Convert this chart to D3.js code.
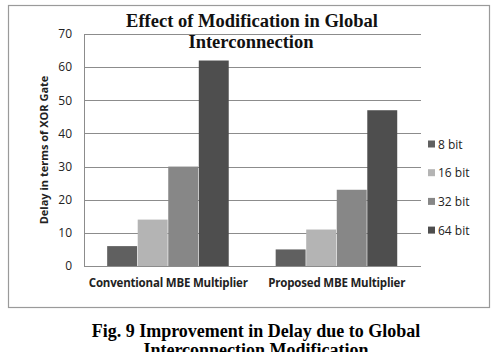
<!DOCTYPE html>
<html>
<head>
<meta charset="utf-8">
<script src="https://cdn.jsdelivr.net/npm/d3@7"></script>
<style>
  body { margin: 0; background: #fff; }
  svg { display: block; }
</style>
</head>
<body>
<svg id="chart" width="493" height="352"></svg>
<script>
// chart data
const categories = ['Conventional MBE Multiplier', 'Proposed MBE Multiplier'];
const seriesNames = ['8 bit', '16 bit', '32 bit', '64 bit'];
const seriesColors = ['#606060', '#b4b4b4', '#878787', '#4e4e4e'];
const values8 = [6, 5];
const values16 = [14, 11];
const values32 = [30, 23];
const values64 = [62, 47];
const yTicks = [0, 10, 20, 30, 40, 50, 60, 70];

const seriesValues = [values8, values16, values32, values64];

const svg = d3.select('#chart');

// outer frame
svg.append('rect')
    .attr('x', 8.5).attr('y', 5.5)
    .attr('width', 481).attr('height', 302)
    .attr('fill', '#fff')
    .attr('stroke', '#9a9a9a')
    .attr('stroke-width', 1.2);

const plot = { left: 84, right: 421, top: 34, bottom: 266 };

const y = d3.scaleLinear()
    .domain([0, 70])
    .range([plot.bottom, plot.top]);

const x0 = d3.scaleBand()
    .domain(categories)
    .range([plot.left, plot.right])
    .paddingInner(0.275)
    .paddingOuter(0.1375);

const x1 = d3.scaleBand()
    .domain(seriesNames)
    .range([0, x0.bandwidth()]);

// gridlines
svg.append('g')
    .selectAll('line')
    .data(yTicks)
    .join('line')
    .attr('x1', plot.left)
    .attr('x2', plot.right)
    .attr('y1', (d) => Math.round(y(d)) + 0.5)
    .attr('y2', (d) => Math.round(y(d)) + 0.5)
    .attr('stroke', '#8c8c8c')
    .attr('stroke-width', 1);

// left axis line
svg.append('line')
    .attr('x1', plot.left + 0.5).attr('x2', plot.left + 0.5)
    .attr('y1', plot.top).attr('y2', plot.bottom + 0.5)
    .attr('stroke', '#8c8c8c');

// tick labels
const yAxis = svg.append('g')
    .attr('transform', `translate(${plot.left},0)`)
    .call(d3.axisLeft(y).tickValues(yTicks).tickSize(0).tickPadding(12));
yAxis.select('.domain').remove();
yAxis.selectAll('text')
    .attr('font-family', '"Open Sans", sans-serif')
    .attr('font-size', 12)
    .attr('fill', '#222');

// bars
const groups = svg.append('g')
    .selectAll('g')
    .data(categories)
    .join('g')
    .attr('transform', (d) => `translate(${x0(d)},0)`);

groups.selectAll('rect')
    .data((d, i) => seriesNames.map((s, j) => ({ s, v: seriesValues[j][i], c: seriesColors[j] })))
    .join('rect')
    .attr('x', (d) => x1(d.s))
    .attr('width', x1.bandwidth() - 0.6)
    .attr('y', (d) => y(d.v))
    .attr('height', (d) => y(0) - y(d.v))
    .attr('fill', (d) => d.c);

// category labels
svg.append('g')
    .selectAll('text')
    .data(categories)
    .join('text')
    .attr('x', (d) => x0(d) + x0.bandwidth() / 2)
    .attr('y', 287)
    .attr('text-anchor', 'middle')
    .attr('font-family', '"Open Sans", sans-serif')
    .attr('font-weight', 'bold')
    .attr('font-size', 11.5)
    .attr('letter-spacing', -0.2)
    .attr('fill', '#222')
    .text((d) => d);

// y axis title
svg.append('text')
    .attr('transform', 'translate(48,150) rotate(-90)')
    .attr('text-anchor', 'middle')
    .attr('font-family', '"Open Sans", sans-serif')
    .attr('font-weight', 'bold')
    .attr('font-size', 11)
    .attr('fill', '#222')
    .text('Delay in terms of XOR Gate');

// chart title
const title = svg.append('text')
    .attr('text-anchor', 'middle')
    .attr('font-family', '"Liberation Serif", serif')
    .attr('font-weight', 'bold')
    .attr('font-size', 18.5)
    .attr('fill', '#111');
title.append('tspan').attr('x', 252).attr('y', 27).text('Effect of Modification in Global');
title.append('tspan').attr('x', 251).attr('y', 48).text('Interconnection');

// legend
const legend = svg.append('g')
    .selectAll('g')
    .data(seriesNames)
    .join('g')
    .attr('transform', (d, i) => `translate(428,${144 + i * 28.7})`);
legend.append('rect')
    .attr('x', 0).attr('y', -3.5)
    .attr('width', 7).attr('height', 7)
    .attr('fill', (d, i) => seriesColors[i]);
legend.append('text')
    .attr('x', 10).attr('y', 4.5)
    .attr('font-family', '"Open Sans", sans-serif')
    .attr('font-size', 12)
    .attr('fill', '#222')
    .text((d) => d);

// figure caption
const caption = svg.append('text')
    .attr('text-anchor', 'middle')
    .attr('font-family', '"Liberation Serif", serif')
    .attr('font-weight', 'bold')
    .attr('font-size', 18)
    .attr('fill', '#000');
caption.append('tspan').attr('x', 256).attr('y', 337).text('Fig. 9 Improvement in Delay due to Global');
caption.append('tspan').attr('x', 256).attr('y', 356).text('Interconnection Modification');
</script>
</body>
</html>
